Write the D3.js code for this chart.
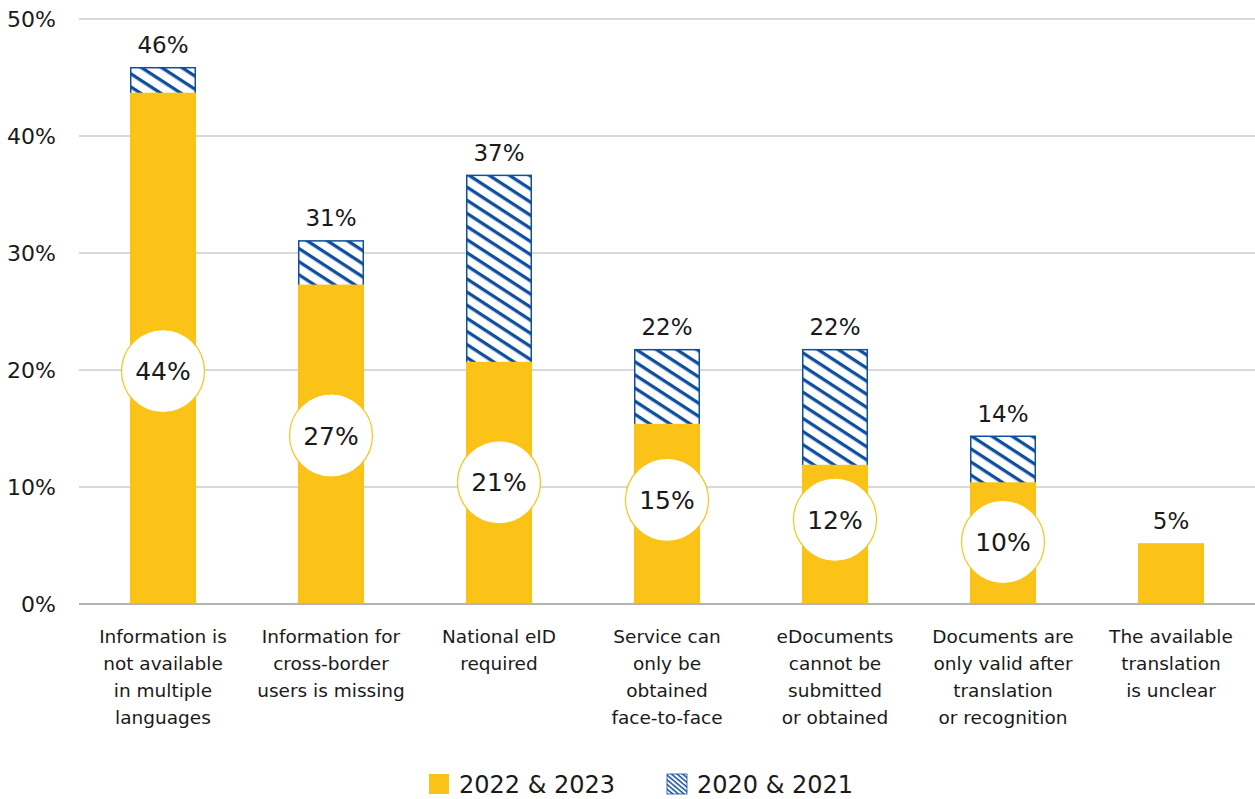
<!DOCTYPE html>
<html>
<head>
<meta charset="utf-8">
<script src="https://cdn.jsdelivr.net/npm/d3@7/dist/d3.min.js"></script>
<style>
  html, body { margin: 0; padding: 0; background: #fff; }
  svg { display: block; font-family: "DejaVu Sans", "Noto Sans", sans-serif; }
</style>
</head>
<body>
<svg id="chart" width="1255" height="799"></svg>
<script>
// ---- data ----
const categories = [
  ["Information is", "not available", "in multiple", "languages"],
  ["Information for", "cross-border", "users is missing"],
  ["National eID", "required"],
  ["Service can", "only be", "obtained", "face-to-face"],
  ["eDocuments", "cannot be", "submitted", "or obtained"],
  ["Documents are", "only valid after", "translation", "or recognition"],
  ["The available", "translation", "is unclear"]
];
const values2223 = [43.7, 27.3, 20.7, 15.4, 11.9, 10.4, 5.2];
const values2021 = [45.9, 31.1, 36.7, 21.8, 21.8, 14.4, null];
const seriesNames = ["2022 & 2023", "2020 & 2021"];
const yTicks = [0, 10, 20, 30, 40, 50];
// value (in %) at which each circular 2022&2023 label sits
const circleAnchor = [19.9, 14.4, 10.4, 8.9, 7.2, 5.3, null];

// ---- layout ----
const W = 1255, H = 799;
const yellow = "#FBC317", blue = "#0F4FA0";
const txt = "#1a1a1a";
const svg = d3.select("#chart");

const x = d3.scaleBand()
  .domain(d3.range(categories.length))
  .range([79, 1255])
  .paddingInner(0.607)
  .paddingOuter(0.3035);
const y = d3.scaleLinear().domain([0, 50]).range([604, 19]);

// hatch patterns ("\" direction)
const defs = svg.append("defs");
const pat = defs.append("pattern")
  .attr("id", "hatch")
  .attr("patternUnits", "userSpaceOnUse")
  .attr("width", 11).attr("height", 11)
  .attr("patternTransform", "rotate(33)");
pat.append("rect").attr("width", 11).attr("height", 11).attr("fill", "#fff");
pat.append("rect").attr("x", 0).attr("y", 0).attr("width", 11).attr("height", 3.3).attr("fill", blue);

const pat2 = defs.append("pattern")
  .attr("id", "hatchSmall")
  .attr("patternUnits", "userSpaceOnUse")
  .attr("width", 3.6).attr("height", 3.6)
  .attr("patternTransform", "rotate(40)");
pat2.append("rect").attr("width", 3.6).attr("height", 3.6).attr("fill", "#fff");
pat2.append("rect").attr("width", 3.6).attr("height", 1.5).attr("fill", blue);

// gridlines
svg.append("g").selectAll("line")
  .data(yTicks)
  .join("line")
  .attr("x1", 79).attr("x2", W)
  .attr("y1", d => y(d)).attr("y2", d => y(d))
  .attr("stroke", d => d === 0 ? "#b4b4b4" : "#d9d9d9")
  .attr("stroke-width", 2);

// y axis labels
const yAxis = d3.axisLeft(y).tickValues(yTicks).tickSize(0).tickPadding(0)
  .tickFormat(d => d + "%");
svg.append("g")
  .attr("transform", "translate(56,0)")
  .call(yAxis)
  .call(g => g.select(".domain").remove())
  .call(g => g.selectAll("text")
    .attr("font-family", "'DejaVu Sans', sans-serif")
    .attr("font-size", 22).attr("fill", txt));

// 2020&2021 bars (hatched)
const idx = d3.range(categories.length);
svg.append("g").selectAll("rect")
  .data(idx.filter(i => values2021[i] != null))
  .join("rect")
  .attr("x", i => x(i) + 0.75)
  .attr("width", x.bandwidth() - 1.5)
  .attr("y", i => y(values2021[i]) + 0.75)
  .attr("height", i => y(0) - y(values2021[i]) - 0.75)
  .attr("fill", "url(#hatch)")
  .attr("stroke", blue)
  .attr("stroke-width", 1.5);

// 2022&2023 bars
svg.append("g").selectAll("rect")
  .data(idx)
  .join("rect")
  .attr("x", i => x(i))
  .attr("width", x.bandwidth())
  .attr("y", i => y(values2223[i]))
  .attr("height", i => y(0) - y(values2223[i]))
  .attr("fill", yellow);

// redraw baseline above bars
svg.append("line")
  .attr("x1", 79).attr("x2", W)
  .attr("y1", y(0)).attr("y2", y(0))
  .attr("stroke", "#b4b4b4").attr("stroke-width", 2);

// top labels
const topVal = i => Math.max(values2223[i], values2021[i] ?? -Infinity);
svg.append("g").selectAll("text")
  .data(idx)
  .join("text")
  .attr("x", i => x(i) + x.bandwidth() / 2)
  .attr("y", i => y(topVal(i)) - 14)
  .attr("text-anchor", "middle")
  .attr("font-size", 23)
  .attr("fill", txt)
  .text(i => Math.round(topVal(i)) + "%");

// circle labels
const cg = svg.append("g").selectAll("g")
  .data(idx.filter(i => circleAnchor[i] != null))
  .join("g")
  .attr("transform", i => `translate(${x(i) + x.bandwidth() / 2},${y(circleAnchor[i])})`);
cg.append("circle").attr("r", 41.5).attr("fill", "#fff").attr("stroke", yellow).attr("stroke-width", 1.2);
cg.append("text")
  .attr("text-anchor", "middle")
  .attr("dy", "0.36em")
  .attr("font-size", 25)
  .attr("fill", txt)
  .text(i => Math.round(values2223[i]) + "%");

// category labels
const cl = svg.append("g").selectAll("text")
  .data(idx)
  .join("text")
  .attr("x", i => x(i) + x.bandwidth() / 2)
  .attr("y", 643)
  .attr("text-anchor", "middle")
  .attr("font-size", 18.5)
  .attr("fill", txt);
cl.selectAll("tspan")
  .data(i => categories[i])
  .join("tspan")
  .attr("x", function() { return d3.select(this.parentNode).attr("x"); })
  .attr("dy", (d, j) => j === 0 ? 0 : 27)
  .text(d => d);

// legend
const legend = svg.append("g");
const legendItems = [
  { name: seriesNames[0], fill: yellow, x: 429 },
  { name: seriesNames[1], fill: "url(#hatchSmall)", x: 667 }
];
const li = legend.selectAll("g").data(legendItems).join("g")
  .attr("transform", d => `translate(${d.x},774)`);
li.append("rect").attr("width", 20).attr("height", 20)
  .attr("fill", d => d.fill)
  .attr("stroke", (d, i) => i === 1 ? blue : "none")
  .attr("stroke-width", 0.8);
li.append("text").attr("x", 30).attr("y", 19)
  .attr("font-size", 24).attr("fill", txt)
  .text(d => d.name);
</script>
</body>
</html>
